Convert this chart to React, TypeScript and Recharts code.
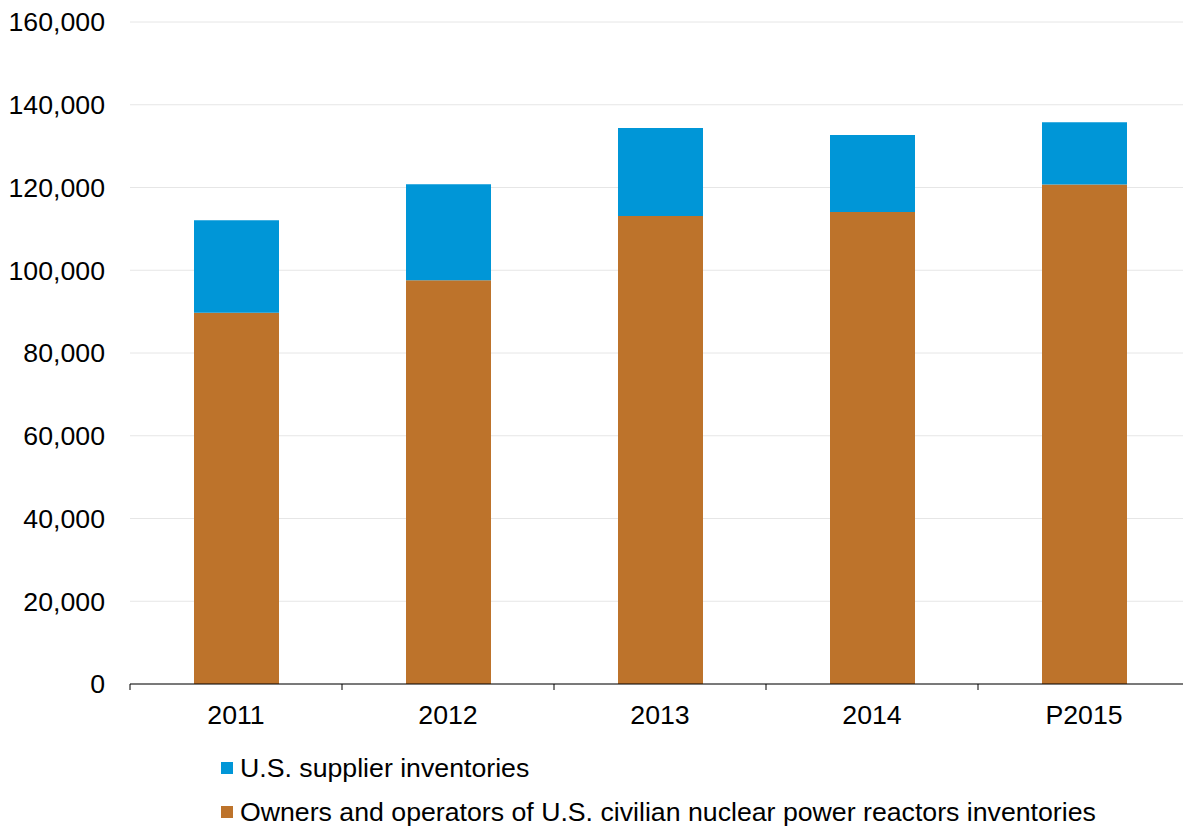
import React from 'react';
import { BarChart, Bar, XAxis, YAxis, CartesianGrid } from 'recharts';

const years = ['2011', '2012', '2013', '2014', 'P2015'];
const ownersInventories = [89700, 97600, 113100, 114100, 120700];
const supplierInventories = [22400, 23200, 21300, 18600, 15100];
const yTicks = [0, 20000, 40000, 60000, 80000, 100000, 120000, 140000, 160000];

const BLUE = '#0096d7';
const BROWN = '#bd732b';
const FONT = 'Arial, "Liberation Sans", sans-serif';
const FS = 26.7;

const data = years.map((year, i) => ({
    year,
    owners: ownersInventories[i],
    supplier: supplierInventories[i],
}));

const BAND = 212;

const XTick = (props: any) => {
    const { x, y, payload } = props;
    return (
        <g>
            <line x1={x - BAND / 2} x2={x - BAND / 2} y1={y - 8} y2={y - 2} stroke="#000" strokeWidth={1} />
            <text x={x} y={y + 32} textAnchor="middle" fontSize={FS} fill="#000" fontFamily={FONT}>
                {payload.value}
            </text>
        </g>
    );
};

const legendItems = [
    { label: 'U.S. supplier inventories', color: BLUE },
    { label: 'Owners and operators of U.S. civilian nuclear power reactors inventories', color: BROWN },
];

export default function App() {
    return (
        <div style={{ position: 'absolute', left: 0, top: 0, width: 1183, height: 832, overflow: 'hidden', background: '#fff' }}>
            <BarChart
                width={1190}
                height={832}
                data={data}
                margin={{ top: 22, right: 0, left: 0, bottom: 108 }}
                barSize={85}
            >
                <CartesianGrid vertical={false} stroke="#e6e6e6" />
                <XAxis
                    dataKey="year"
                    height={40}
                    stroke="#000"
                    tickLine={false}
                    tick={<XTick />}
                    interval={0}
                />
                <YAxis
                    width={130}
                    domain={[0, 160000]}
                    ticks={yTicks}
                    axisLine={false}
                    tickLine={false}
                    tickMargin={19}
                    tick={{ fontSize: FS, fill: '#000', fontFamily: FONT }}
                    tickFormatter={(v: number) => v.toLocaleString('en-US')}
                />
                <Bar dataKey="owners" stackId="a" fill={BROWN} isAnimationActive={false} />
                <Bar dataKey="supplier" stackId="a" fill={BLUE} isAnimationActive={false} />
            </BarChart>
            <div style={{ position: 'absolute', left: 221, top: 751, fontFamily: FONT, fontSize: FS, color: '#000' }}>
                {legendItems.map((item) => (
                    <div key={item.label} style={{ display: 'flex', alignItems: 'center', height: 34, marginBottom: 10, whiteSpace: 'nowrap' }}>
                        <span style={{ width: 12, height: 12, background: item.color, marginRight: 7, display: 'inline-block' }} />
                        <span>{item.label}</span>
                    </div>
                ))}
            </div>
        </div>
    );
}
